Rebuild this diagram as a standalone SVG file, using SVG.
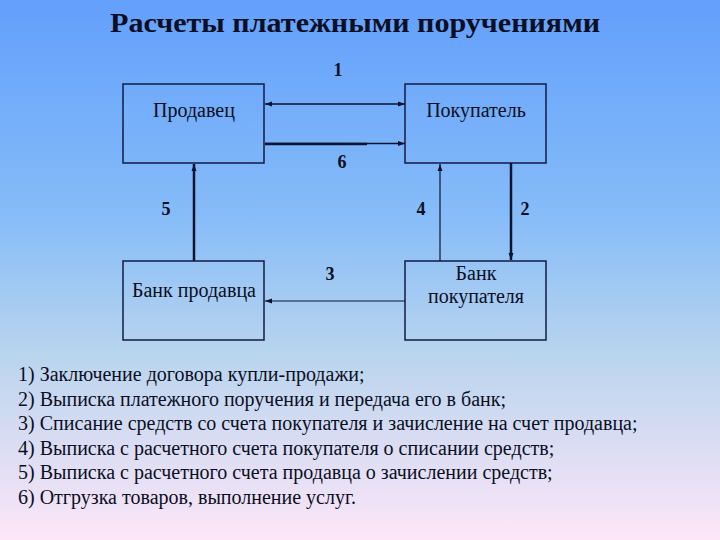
<svg xmlns="http://www.w3.org/2000/svg" width="720" height="540" viewBox="0 0 720 540">
<defs>
<linearGradient id="bg" x1="0" y1="0" x2="0" y2="1">
<stop offset="0" stop-color="#639ffc"/>
<stop offset="0.4" stop-color="#86bcf8"/>
<stop offset="0.65" stop-color="#b8d4ee"/>
<stop offset="1" stop-color="#fde6f8"/>
</linearGradient>
<marker id="ah" viewBox="0 0 10 10" refX="10" refY="5" markerWidth="7" markerHeight="7" markerUnits="userSpaceOnUse" orient="auto-start-reverse">
<path d="M0,1.5 L10,5 L0,8.5 z" fill="#0a1430"/>
</marker>
<style>
text{fill:#0a0f24}
.box{fill:none;stroke:#0f1d45;stroke-width:1.5}
.lbl{font-size:20px;text-anchor:middle}
.num{font-size:18px;font-weight:bold;text-anchor:middle}
.ln{stroke:#0a1430;fill:none}
.list{font-size:20px}
</style>
</defs>
<rect width="720" height="540" fill="url(#bg)"/>
<g font-family="Liberation Serif, serif">
<text x="355" y="32" font-size="27" font-weight="bold" text-anchor="middle" textLength="490" lengthAdjust="spacingAndGlyphs">Расчеты платежными поручениями</text>

<g id="seller">
<rect class="box" x="123" y="84" width="141" height="79"/>
<text class="lbl" x="194" y="117">Продавец</text>
</g>
<g id="buyer">
<rect class="box" x="405" y="84" width="141" height="79"/>
<text class="lbl" x="476" y="117">Покупатель</text>
</g>
<g id="seller-bank">
<rect class="box" x="123" y="261" width="141" height="79"/>
<text class="lbl" x="194" y="297">Банк продавца</text>
</g>
<g id="buyer-bank">
<rect class="box" x="405" y="261" width="141" height="79"/>
<text class="lbl" x="476" y="280">Банк</text>
<text class="lbl" x="476" y="303">покупателя</text>
</g>

<g id="connectors">
<line class="ln" x1="265" y1="104" x2="405" y2="104" stroke-width="1.5" marker-start="url(#ah)" marker-end="url(#ah)"/>
<line class="ln" x1="265" y1="143.5" x2="405" y2="143.5" stroke-width="1.5" marker-end="url(#ah)"/>
<line class="ln" x1="265" y1="144" x2="367" y2="144" stroke-width="2.5"/>
<line class="ln" x1="194" y1="261" x2="194" y2="164" stroke-width="2.5" marker-end="url(#ah)"/>
<line class="ln" x1="440" y1="261" x2="440" y2="164" stroke-width="1.2" marker-end="url(#ah)"/>
<line class="ln" x1="511" y1="163" x2="511" y2="260" stroke-width="2.5" marker-end="url(#ah)"/>
<line class="ln" x1="405" y1="301" x2="265" y2="301" stroke-width="1.2" marker-end="url(#ah)"/>
<text class="num" x="338" y="76">1</text>
<text class="num" x="342" y="168">6</text>
<text class="num" x="166" y="215">5</text>
<text class="num" x="421" y="215">4</text>
<text class="num" x="525" y="215">2</text>
<text class="num" x="330" y="280">3</text>
</g>

<g id="legend">
<text class="list" x="18" y="381">1) Заключение договора купли-продажи;</text>
<text class="list" x="18" y="405.5">2) Выписка платежного поручения и передача его в банк;</text>
<text class="list" x="18" y="430">3) Списание средств со счета покупателя и зачисление на счет продавца;</text>
<text class="list" x="18" y="454.5">4) Выписка с расчетного счета покупателя о списании средств;</text>
<text class="list" x="18" y="479">5) Выписка с расчетного счета продавца о зачислении средств;</text>
<text class="list" x="18" y="503.5">6) Отгрузка товаров, выполнение услуг.</text>
</g>
</g>
</svg>
